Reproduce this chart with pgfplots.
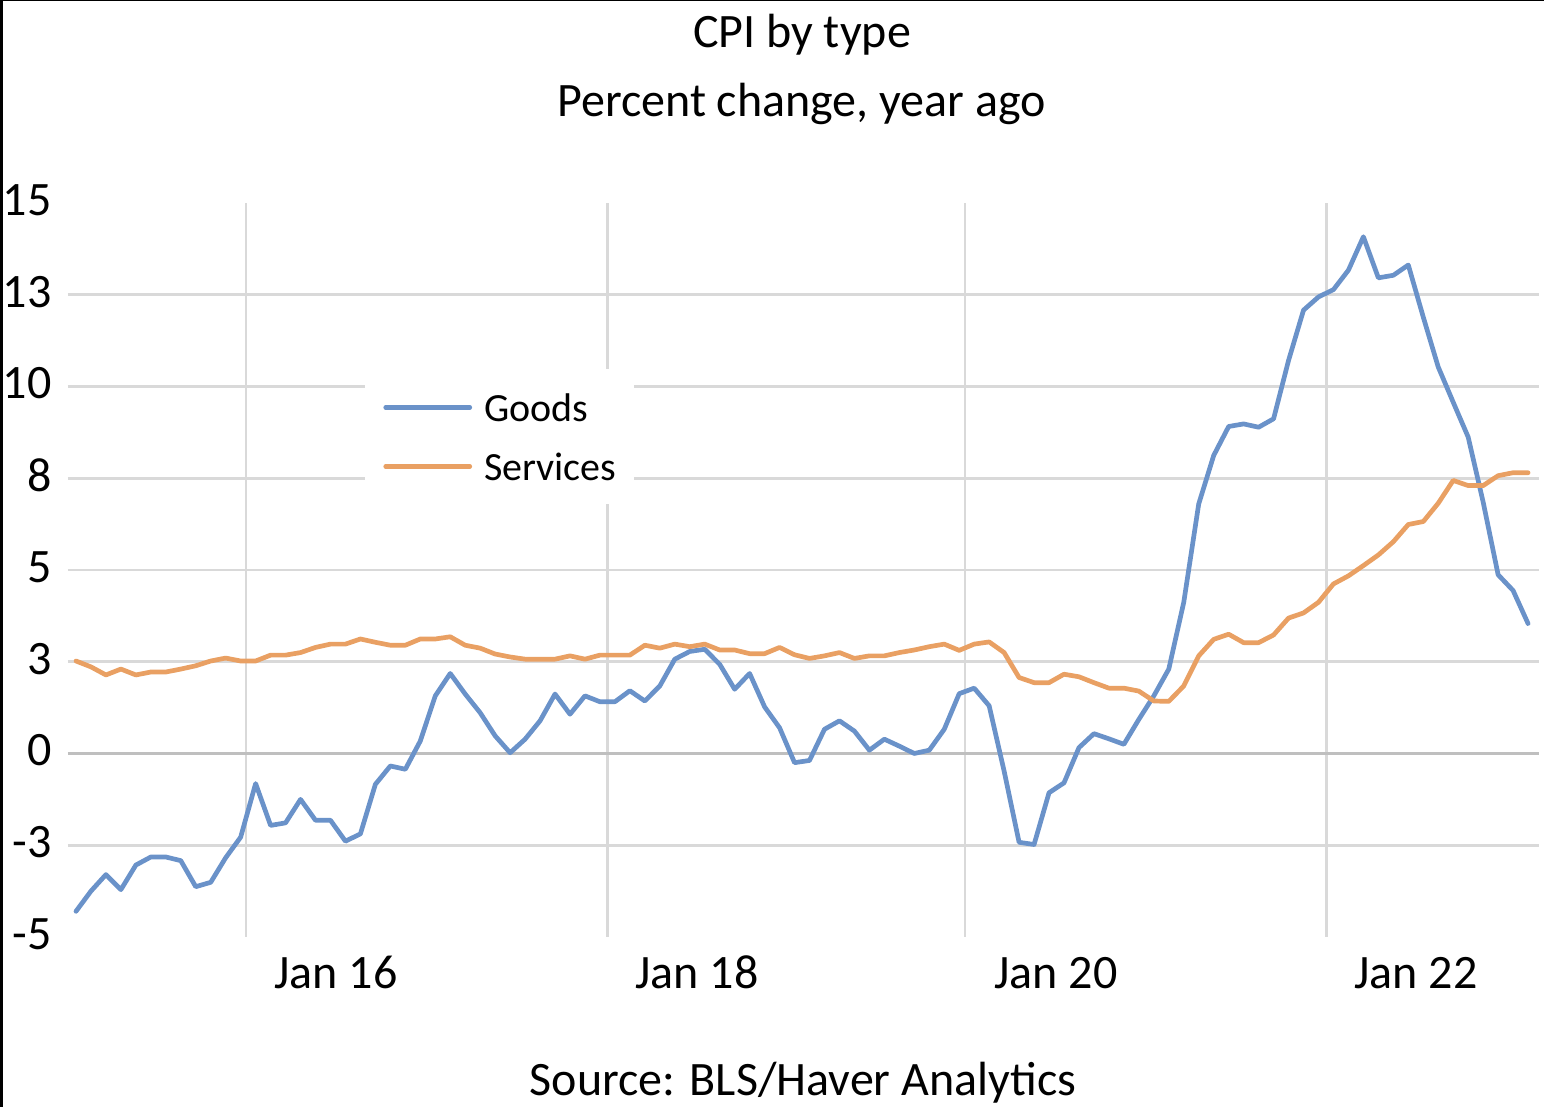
\documentclass[border=0pt]{standalone}
\usepackage{fontspec}
\setmainfont{Carlito}
\usepackage{pgfplots}
\usepackage{pgfplotstable}
\pgfplotsset{compat=1.18}
\definecolor{goodsblue}{RGB}{106,146,201}
\definecolor{servorange}{RGB}{233,160,99}
\definecolor{gridgray}{RGB}{217,217,217}
\definecolor{zerogray}{RGB}{191,191,191}
\pgfplotstableread{
i goods services
0 -4.30 2.52
1 -3.75 2.36
2 -3.30 2.14
3 -3.71 2.30
4 -3.04 2.14
5 -2.82 2.22
6 -2.82 2.22
7 -2.92 2.30
8 -3.63 2.39
9 -3.51 2.52
10 -2.84 2.60
11 -2.28 2.52
12 -0.82 2.52
13 -1.96 2.68
14 -1.89 2.68
15 -1.25 2.75
16 -1.82 2.89
17 -1.82 2.98
18 -2.39 2.98
19 -2.19 3.12
20 -0.84 3.03
21 -0.34 2.95
22 -0.43 2.95
23 0.34 3.12
24 1.57 3.12
25 2.18 3.18
26 1.62 2.95
27 1.11 2.87
28 0.48 2.71
29 0.02 2.63
30 0.39 2.57
31 0.89 2.57
32 1.62 2.57
33 1.07 2.66
34 1.57 2.57
35 1.41 2.68
36 1.41 2.68
37 1.71 2.68
38 1.43 2.95
39 1.84 2.87
40 2.57 2.98
41 2.78 2.91
42 2.84 2.98
43 2.43 2.82
44 1.75 2.82
45 2.18 2.72
46 1.27 2.72
47 0.70 2.89
48 -0.25 2.69
49 -0.19 2.59
50 0.66 2.66
51 0.89 2.75
52 0.61 2.59
53 0.09 2.66
54 0.39 2.66
55 0.20 2.75
56 0.00 2.82
57 0.09 2.91
58 0.66 2.98
59 1.63 2.81
60 1.78 2.98
61 1.30 3.04
62 -0.48 2.75
63 -2.42 2.07
64 -2.48 1.93
65 -1.07 1.93
66 -0.80 2.16
67 0.16 2.09
68 0.54 1.93
69 0.40 1.78
70 0.25 1.78
71 0.93 1.70
72 1.57 1.43
73 2.30 1.42
74 4.12 1.84
75 6.80 2.66
76 8.12 3.11
77 8.91 3.25
78 8.98 3.02
79 8.89 3.02
80 9.12 3.23
81 10.71 3.69
82 12.08 3.83
83 12.44 4.12
84 12.64 4.62
85 13.17 4.84
86 14.08 5.12
87 12.96 5.41
88 13.03 5.77
89 13.31 6.24
90 11.89 6.32
91 10.53 6.82
92 9.57 7.44
93 8.62 7.30
94 6.85 7.30
95 4.87 7.57
96 4.44 7.65
97 3.54 7.65
}\cpidata
\begin{document}
\begin{tikzpicture}
\path[use as bounding box] (0,0) rectangle (772pt,553.5pt);
\begin{axis}[
  at={(34pt,85pt)}, anchor=south west,
  scale only axis, width=735.5pt, height=367pt,
  xmin=-0.534, xmax=97.73, ymin=-5, ymax=15,
  axis line style={draw=none},
  major tick length=0pt,
  tick style={draw=none},
  xtick={11.36,35.49,59.39,83.55},
  xticklabels={},
  xmajorgrids,
  extra x ticks={17.37,41.48,65.46,89.51},
  extra x tick labels={Jan 16,Jan 18,Jan 20,Jan 22},
  extra x tick style={grid=none},
  ytick={-2.5,0,2.5,5,7.5,10,12.5},
  yticklabels={-3,0,3,5,8,10,13},
  ymajorgrids,
  extra y ticks={-5,15},
  extra y tick labels={-5,15},
  extra y tick style={grid=none},
  grid style={color=gridgray, line width=1.3pt},
  xticklabel style={anchor=base, inner sep=0pt, yshift=-26pt, font=\fontsize{24}{28.8}\selectfont},
  yticklabel style={anchor=east, inner sep=0pt, xshift=-8pt, yshift=1.5pt, font=\fontsize{24}{28.8}\selectfont},
  legend style={at={(0.2019,0.7738)}, anchor=north west, draw=none, fill=white,
    inner xsep=9pt, inner ysep=12pt, font=\fontsize{20}{24}\selectfont,
    row sep=15.5pt, nodes={inner sep=0pt, text height=14pt, text depth=0pt},
    /tikz/every odd column/.style={column sep=6pt}},
  legend cell align=left,
  legend image code/.code={\draw[#1] (0pt,0pt) -- (42pt,0pt);},
]
\addplot[forget plot, color=zerogray, line width=1.5pt] coordinates {(-0.534,0) (97.73,0)};
\addplot[color=goodsblue, line width=2.35pt, line join=round, line cap=round] table[x=i, y=goods] {\cpidata};
\addlegendentry{Goods}
\addplot[color=servorange, line width=2.35pt, line join=round, line cap=round] table[x=i, y=services] {\cpidata};
\addlegendentry{Services}
\end{axis}
\draw[line width=1.65pt] (0.825pt,0pt) -- (0.825pt,553.5pt);
\draw[line width=0.65pt] (0pt,553.175pt) -- (772pt,553.175pt);
\node[anchor=base, inner sep=0pt, font=\fontsize{24}{28.8}\selectfont] at (401pt,529.5pt) {CPI by type};
\node[anchor=base, inner sep=0pt, font=\fontsize{24}{28.8}\selectfont] at (400.75pt,495pt) {Percent change, year ago};
\node[anchor=base, inner sep=0pt, font=\fontsize{24}{28.8}\selectfont] at (401.5pt,5.5pt) {Source: BLS/Haver Analytics};
\end{tikzpicture}
\end{document}
